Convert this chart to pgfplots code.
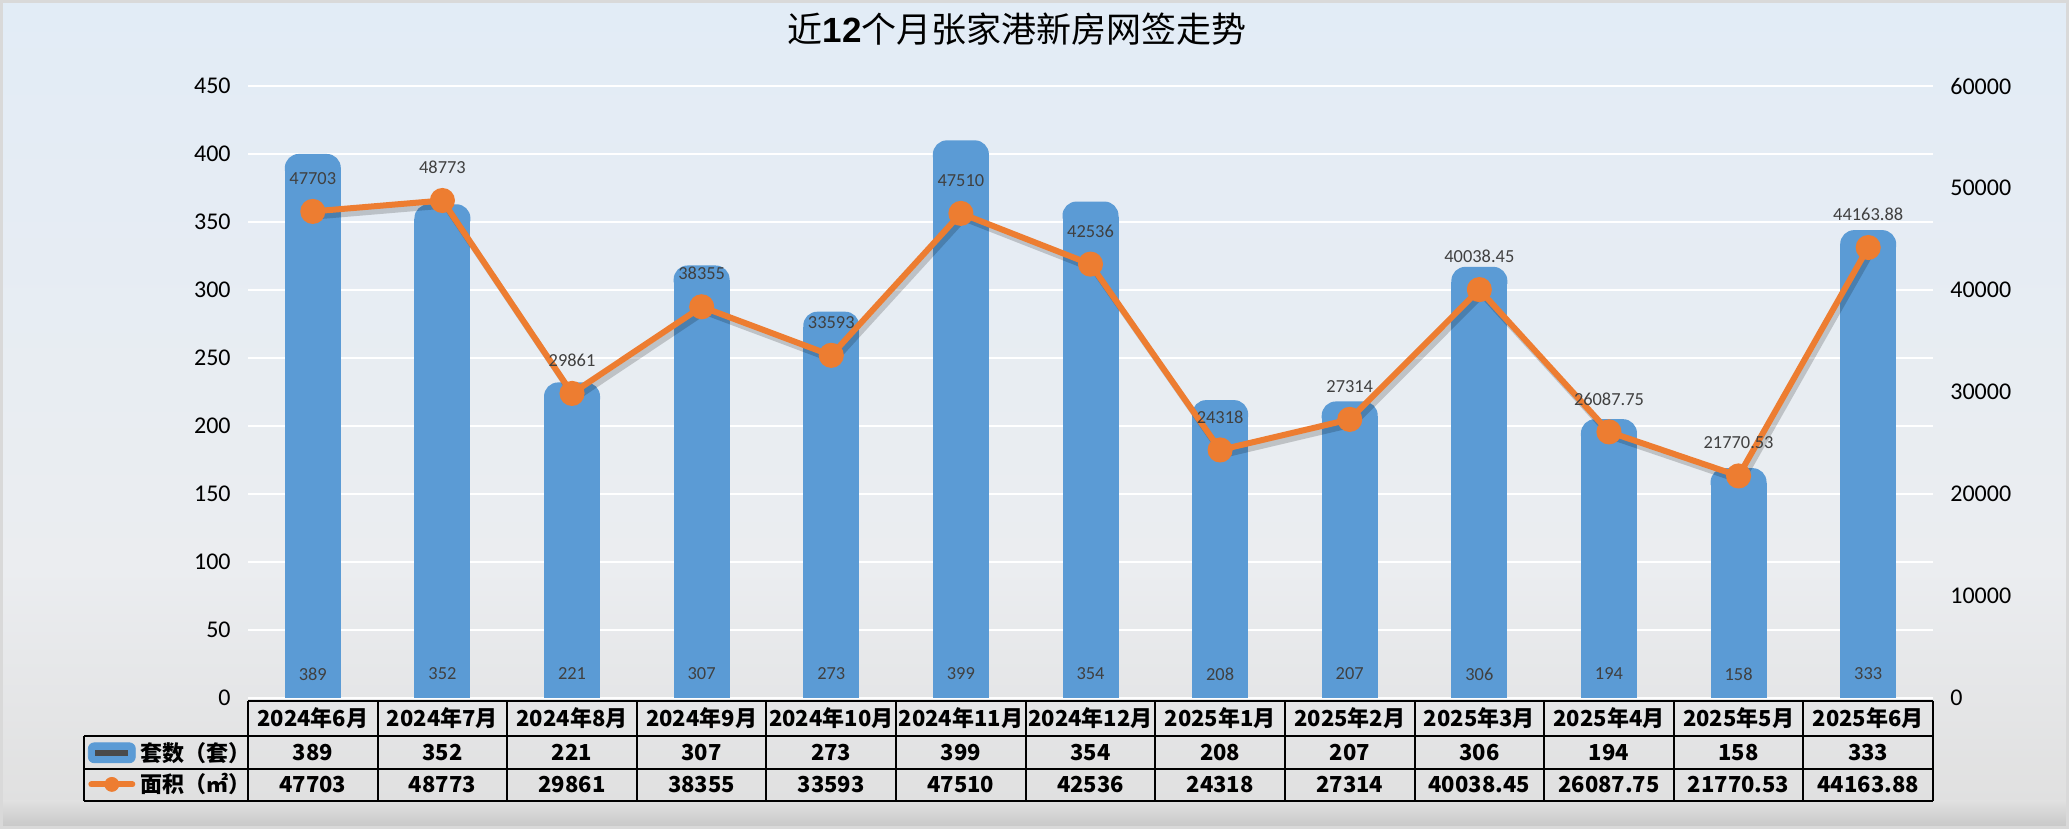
\documentclass[border=0pt]{standalone}
\usepackage{fontspec}
\setmainfont{Carlito}
\newfontfamily\cjk{Noto Sans CJK SC}
\newfontfamily\arialf{Liberation Sans}
\usepackage{pgfplots}
\pgfplotsset{compat=1.18}
\usepackage{pgfplotstable}

\definecolor{barblue}{HTML}{5B9BD5}
\definecolor{lineorange}{HTML}{ED7D31}
\definecolor{lblgray}{HTML}{404040}
\definecolor{keygray}{HTML}{4A4A4A}
\definecolor{bgtop}{HTML}{E2ECF6}
\definecolor{bgmid}{HTML}{EBEDF0}
\definecolor{bglow}{HTML}{E0E0E0}
\definecolor{bgbot}{HTML}{C6C6C6}

\pgfdeclareplotmark{rtop}{%
  \pgfpathmoveto{\pgfpoint{-14pt}{-1pt}}%
  \pgfpathlineto{\pgfpoint{-14pt}{0.5pt}}%
  \pgfpatharc{180}{90}{7pt}%
  \pgfpathlineto{\pgfpoint{7pt}{7.5pt}}%
  \pgfpatharc{90}{0}{7pt}%
  \pgfpathlineto{\pgfpoint{14pt}{-1pt}}%
  \pgfpathclose
  \pgfusepathqfill}

\pgfplotstableread{
idx month n area
0 2024年6月 389 47703
1 2024年7月 352 48773
2 2024年8月 221 29861
3 2024年9月 307 38355
4 2024年10月 273 33593
5 2024年11月 399 47510
6 2024年12月 354 42536
7 2025年1月 208 24318
8 2025年2月 207 27314
9 2025年3月 306 40038.45
10 2025年4月 194 26087.75
11 2025年5月 158 21770.53
12 2025年6月 333 44163.88
}\datatable

\begin{document}
\begin{tikzpicture}
\useasboundingbox (0,0) rectangle (1034.5pt,414.5pt);
% background
\shade[top color=bgtop, bottom color=bgmid] (0,130pt) rectangle (1034.5pt,414.5pt);
\shade[top color=bgmid, bottom color=bglow] (0,14pt) rectangle (1034.5pt,130.1pt);
\shade[top color=bglow, bottom color=bgbot] (0,0) rectangle (1034.5pt,14.1pt);
\draw[black!15, line width=1.5pt] (0.75pt,0.75pt) rectangle (1033.75pt,413.75pt);

\node[font=\cjk\fontsize{17.5}{20}\selectfont] at (508.5pt,400pt) {近{\arialf\bfseries 12}个月张家港新房网签走势};

\begin{axis}[
  at={(124pt,65.5pt)}, anchor=south west,
  scale only axis, width=842.5pt, height=306pt,
  xmin=-0.5, xmax=12.5, ymin=0, ymax=450,
  xtick=\empty,
  ytick={0,50,...,450},
  ymajorgrids, grid style={white, line width=1pt},
  axis line style={draw=none},
  major tick length=0pt,
  yticklabel style={font=\fontsize{12}{12}\selectfont, inner sep=0pt, xshift=-8.5pt},
  /pgf/number format/assume math mode=true,
  clip=false,
  legend cell align=left,
  legend style={at={(axis description cs:-0.0950,-0.07255)}, anchor=north west,
    draw=none, fill=none, inner sep=0pt, outer sep=0pt, row sep=6.35pt,
    font=\fontsize{11}{12}\selectfont,
    nodes={inner sep=0pt, text height=8.5pt, text depth=0pt}},
]
\addplot[ycomb, color=barblue, line width=28pt, mark=rtop, mark options={fill=barblue}, forget plot]
  table[x=idx, y=n] {\datatable};
% bar value labels
\addplot[draw=none, forget plot, nodes near coords={\pgfplotspointmeta}, point meta=explicit symbolic,
  every node near coord/.append style={anchor=center, yshift=12pt, font=\fontsize{9.2}{10}\selectfont, text=lblgray}]
  table[x=idx, y expr=0, meta=n] {\datatable};
% table rows
\addplot[draw=none, forget plot, nodes near coords={\cjk\bfseries\pgfplotspointmeta}, point meta=explicit symbolic,
  every node near coord/.append style={anchor=center, yshift=-10.2pt, font=\fontsize{11}{12}\selectfont, text=black}]
  table[x=idx, y expr=0, meta=month] {\datatable};
\addplot[draw=none, forget plot, nodes near coords={\cjk\bfseries\pgfplotspointmeta}, point meta=explicit symbolic,
  every node near coord/.append style={anchor=center, yshift=-27.2pt, font=\fontsize{11}{12}\selectfont, text=black}]
  table[x=idx, y expr=0, meta=n] {\datatable};
\addplot[draw=none, forget plot, nodes near coords={\cjk\bfseries\pgfplotspointmeta}, point meta=explicit symbolic,
  every node near coord/.append style={anchor=center, yshift=-43.4pt, font=\fontsize{11}{12}\selectfont, text=black}]
  table[x=idx, y expr=0, meta=area] {\datatable};
\addlegendimage{legend image code/.code={
  \fill[barblue, rounded corners=3pt] (0pt,-5pt) rectangle (23.5pt,5pt);
  \fill[keygray] (3.75pt,-1.25pt) rectangle (19.75pt,1.25pt);}}
\addlegendentry{\cjk\bfseries\hspace*{2.5pt}套数（套）}
\addlegendimage{legend image code/.code={
  \draw[lineorange, line width=3pt, line cap=round] (1.5pt,0pt) -- (22pt,0pt);
  \fill[lineorange] (11.75pt,0pt) circle[radius=3.5pt];}}
\addlegendentry{\cjk\bfseries\hspace*{2.5pt}面积（㎡）}
\end{axis}

\begin{axis}[
  at={(124pt,65.5pt)}, anchor=south west,
  scale only axis, width=842.5pt, height=306pt,
  xmin=-0.5, xmax=12.5, ymin=0, ymax=60000,
  axis y line*=right, axis x line=none,
  ytick={0,10000,...,60000},
  scaled y ticks=false,
  axis line style={draw=none},
  major tick length=0pt,
  yticklabel style={font=\fontsize{12}{12}\selectfont, inner sep=0pt, xshift=8.5pt,
    /pgf/number format/1000 sep={}},
  /pgf/number format/assume math mode=true,
  clip=false,
]
\addplot[black, opacity=0.18, line width=3pt, xshift=1.5pt, yshift=-2.5pt, forget plot]
  table[x=idx, y=area] {\datatable};
\addplot[lineorange, line width=3pt, mark=*, mark size=4.75pt, mark options={fill=lineorange, draw=none},
  nodes near coords={\pgfplotspointmeta}, point meta=explicit symbolic,
  every node near coord/.append style={anchor=center, yshift=16.5pt, font=\fontsize{9.2}{10}\selectfont, text=lblgray}]
  table[x=idx, y=area, meta=area] {\datatable};
\end{axis}

% table grid
\begin{scope}[line width=1pt, black]
\draw (124pt,64.15pt) -- (966.5pt,64.15pt);
\draw (42pt,46.5pt) -- (966.5pt,46.5pt);
\draw (42pt,30.15pt) -- (966.5pt,30.15pt);
\draw (42pt,14pt) -- (966.5pt,14pt);
\draw (42pt,46.5pt) -- (42pt,14pt);
\foreach \k in {0,...,13} {
  \draw ({124pt+\k*64.8077pt},64.15pt) -- ({124pt+\k*64.8077pt},14pt);
}
\end{scope}
\end{tikzpicture}
\end{document}
